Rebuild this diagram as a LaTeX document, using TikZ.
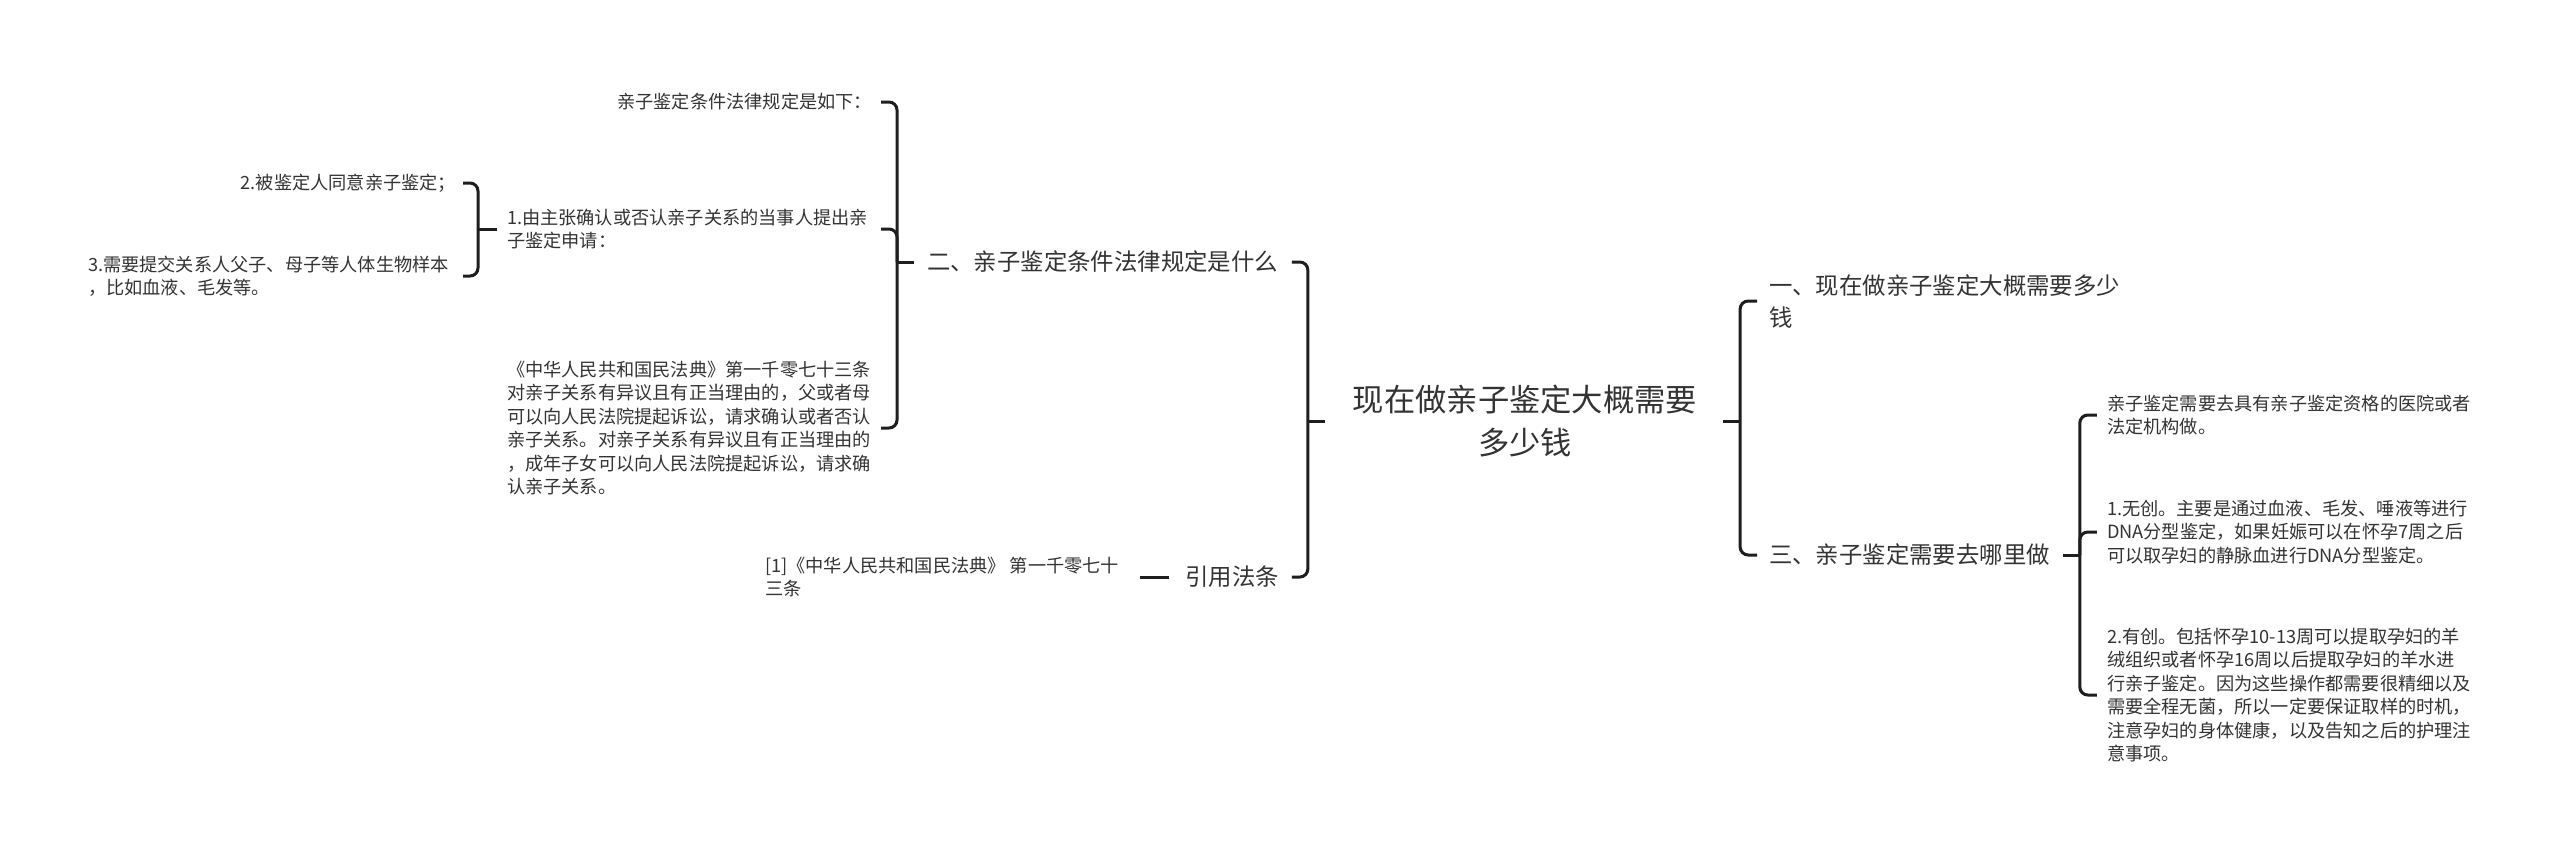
\documentclass[tikz,border=0pt]{standalone}
\usepackage{fontspec}
\setmainfont{Noto Sans CJK SC}
\usetikzlibrary{calc}
\definecolor{txt}{HTML}{333333}
\definecolor{ln}{HTML}{1E1E1E}
\newcommand\smallf{\fontsize{9.1pt}{11.75pt}\selectfont}
\newcommand\midf{\fontsize{11.7pt}{16pt}\selectfont}
\newcommand\rootf{\fontsize{15.65pt}{21.5pt}\selectfont}
\begin{document}
\begin{tikzpicture}[x=0.5pt, y=-0.5pt,
  every node/.style={inner sep=0pt, outer sep=0pt, text=txt},
  sm/.style={font=\smallf, align=left},
  md/.style={font=\midf, align=left},
  rt/.style={font=\rootf, align=center},
  conn/.style={draw=ln, line width=1.5pt, rounded corners=4pt}]
\fill[white] (0,0) rectangle (2560,853);
\useasboundingbox (0,0) rectangle (2560,853);

% nodes
\node[rt] (root) at (1525,421) {现在做亲子鉴定大概需要\\多少钱};
\node[md, anchor=east] (n2) at (1278,262) {二、亲子鉴定条件法律规定是什么};
\node[md, anchor=east] (ref) at (1279,577) {引用法条};
\node[md, anchor=west] (n1) at (1769,301) {一、现在做亲子鉴定大概需要多少\\钱};
\node[md, anchor=west] (n3) at (1769,555) {三、亲子鉴定需要去哪里做};

\node[sm, anchor=east] (c1) at (872,102) {亲子鉴定条件法律规定是如下：};
\node[sm, anchor=west] (c2) at (507,229) {1.由主张确认或否认亲子关系的当事人提出亲\\子鉴定申请：};
\node[sm, anchor=west] (c3) at (507,428) {《中华人民共和国民法典》第一千零七十三条\\对亲子关系有异议且有正当理由的，父或者母\\可以向人民法院提起诉讼，请求确认或者否认\\亲子关系。对亲子关系有异议且有正当理由的\\，成年子女可以向人民法院提起诉讼，请求确\\认亲子关系。};
\node[sm, anchor=east] (c21) at (456,183) {2.被鉴定人同意亲子鉴定；};
\node[sm, anchor=west] (c22) at (88,276) {3.需要提交关系人父子、母子等人体生物样本\\，比如血液、毛发等。};
\node[sm, anchor=west] (rc) at (765,577) {[1]《中华人民共和国民法典》 第一千零七十\\三条};

\node[sm, anchor=west] (r1) at (2107,415) {亲子鉴定需要去具有亲子鉴定资格的医院或者\\法定机构做。};
\node[sm, anchor=west] (r2) at (2107,532) {1.无创。主要是通过血液、毛发、唾液等进行\\DNA分型鉴定，如果妊娠可以在怀孕7周之后\\可以取孕妇的静脉血进行DNA分型鉴定。};
\node[sm, anchor=west] (r3) at (2107,695) {2.有创。包括怀孕10-13周可以提取孕妇的羊\\绒组织或者怀孕16周以后提取孕妇的羊水进\\行亲子鉴定。因为这些操作都需要很精细以及\\需要全程无菌，所以一定要保证取样的时机，\\注意孕妇的身体健康，以及告知之后的护理注\\意事项。};

% root -> left
\draw[conn] ($(root.west)+(-28,0)$) -- ($(root.west)+(-45,0)$);
\foreach \c in {n2,ref}
  \draw[conn] ($(root.west)+(-45,0)$) |- ($(root.west |- \c.east)+(-61,0)$);
% root -> right
\draw[conn] ($(root.east)+(26,0)$) -- ($(root.east)+(43,0)$);
\foreach \c in {n1,n3}
  \draw[conn] ($(root.east)+(43,0)$) |- ($(root.east |- \c.west)+(60,0)$);

% n2 -> children
\draw[conn] ($(n2.west)+(-13,0)$) -- ($(n2.west)+(-30,0)$);
\foreach \c in {c1,c2,c3}
  \draw[conn] ($(n2.west)+(-30,0)$) |- ($(n2.west |- \c.east)+(-46,0)$);

% c2 -> children
\draw[conn] ($(c2.west)+(-10,0)$) -- ($(c2.west)+(-29,0)$);
\foreach \c in {c21,c22}
  \draw[conn] ($(c2.west)+(-29,0)$) |- ($(c2.west |- \c.east)+(-44,0)$);

% ref -> rc
\draw[conn] ($(ref.west)+(-16,0)$) -- ($(ref.west |- rc.east)+(-45,0)$);

% n3 -> children
\draw[conn] ($(n3.east)+(13,0)$) -- ($(n3.east)+(30,0)$);
\foreach \c in {r1,r2,r3}
  \draw[conn] ($(n3.east)+(30,0)$) |- ($(n3.east |- \c.west)+(47,0)$);
\end{tikzpicture}
\end{document}
